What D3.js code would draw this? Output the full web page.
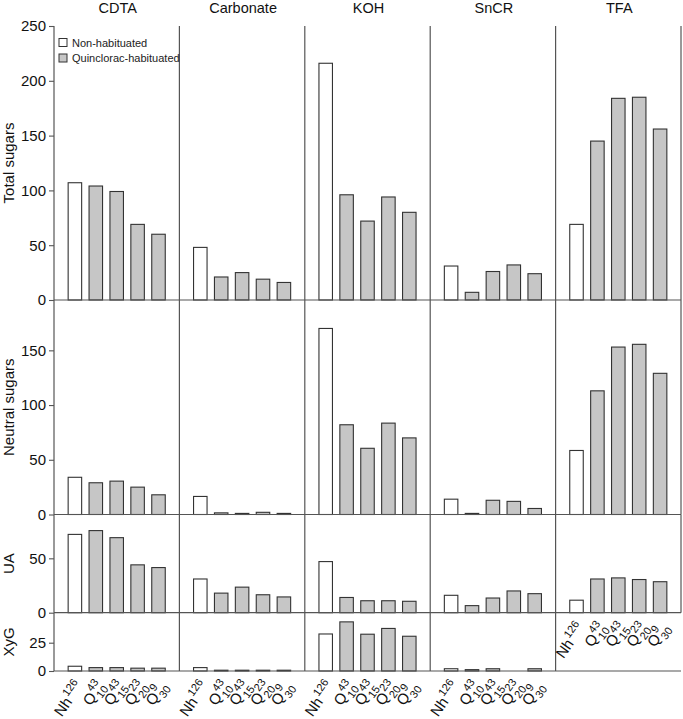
<!DOCTYPE html>
<html>
<head>
<meta charset="utf-8">
<script src="https://cdn.jsdelivr.net/npm/d3@7"></script>
<style>
  body { margin: 0; background: #fff; }
  svg { display: block; font-family: "Liberation Sans", Arial, Helvetica, sans-serif; }
</style>
</head>
<body>
<svg id="chart" width="683" height="719"></svg>
<script>
// ---- Data ----
const fractions = ["CDTA", "Carbonate", "KOH", "SnCR", "TFA"];
const categories = ["Nh126", "Q10_43", "Q15_43", "Q20_23", "Q30_9"];
const catBase = ["Nh", "Q", "Q", "Q", "Q"];
const catSup  = ["126", "43", "43", "23", "9"];
const catSub  = ["", "10", "15", "20", "30"];
const legendLabels = ["Non-habituated", "Quinclorac-habituated"];
const rowNames = ["Total sugars", "Neutral sugars", "UA", "XyG"];

const totalSugars = {
  CDTA:      [107, 104, 99, 69, 60],
  Carbonate: [48, 21, 25, 19, 16],
  KOH:       [216, 96, 72, 94, 80],
  SnCR:      [31, 7, 26, 32, 24],
  TFA:       [69, 145, 184, 185, 156]
};
const neutralSugars = {
  CDTA:      [34, 29, 30.5, 25, 18],
  Carbonate: [16.5, 1.5, 1, 2, 1],
  KOH:       [170, 82, 60.5, 83.5, 70],
  SnCR:      [14, 1, 13, 12, 5.5],
  TFA:       [58.5, 113, 153, 155.5, 129]
};
const uronicAcids = {
  CDTA:      [72, 75.5, 69, 44, 41.5],
  Carbonate: [31, 18, 23.5, 16.5, 14.5],
  KOH:       [47, 14, 11, 11, 10.5],
  SnCR:      [16, 6.5, 13.5, 20, 17.5],
  TFA:       [11.5, 31, 32, 30.5, 28.5]
};
const xyloglucan = {
  CDTA:      [4.2, 3, 3, 2.5, 2.5],
  Carbonate: [3, 0.7, 0.7, 0.7, 0.7],
  KOH:       [32.7, 43.4, 32.5, 37.6, 30.7],
  SnCR:      [2, 1.2, 2, null, 2]
};
const totalTicks = [0, 50, 100, 150, 200, 250];
const neutralTicks = [0, 50, 100, 150];
const uaTicks = [0, 50];
const xygTicks = [0, 25];

// ---- Layout ----
const svg = d3.select("#chart");
const left = 54, right = 681;
const lineColor = "#555";
const barStroke = "#333";
const grayFill = "#c6c6c6";

const rows = [
  { name: rowNames[0], data: totalSugars,   domain: [0, 250],  range: [300, 26],     ticks: totalTicks,   cols: fractions },
  { name: rowNames[1], data: neutralSugars, domain: [0, 196],  range: [514.5, 300],  ticks: neutralTicks, cols: fractions },
  { name: rowNames[2], data: uronicAcids,   domain: [0, 90.3], range: [612.7, 514.5],ticks: uaTicks,      cols: fractions },
  { name: rowNames[3], data: xyloglucan,    domain: [0, 51.5], range: [671, 612.7],  ticks: xygTicks,     cols: fractions.slice(0, 4) }
];
rows.forEach(r => r.y = d3.scaleLinear().domain(r.domain).range(r.range));

const xCol = d3.scaleBand().domain(fractions).range([left, right]).padding(0);
const barW = 13.5;

// column titles
svg.append("g").selectAll("text").data(fractions).join("text")
  .attr("x", d => xCol(d) + xCol.bandwidth() / 2 + 1)
  .attr("y", 12.5)
  .attr("text-anchor", "middle")
  .attr("font-size", 14.5)
  .attr("fill", "#111")
  .text(d => d);

// rows
rows.forEach(r => {
  const g = svg.append("g");
  const y0 = r.y(0), yTop = r.range[1];

  // bars
  r.cols.forEach(f => {
    const xp = d3.scalePoint().domain(categories).range([xCol(f), xCol(f) + xCol.bandwidth()]).padding(1);
    const vals = r.data[f];
    g.append("g").selectAll("rect").data(categories.map((c, i) => ({ c, i, v: vals[i] })).filter(d => d.v != null))
      .join("rect")
      .attr("x", d => xp(d.c) - barW / 2)
      .attr("y", d => r.y(d.v))
      .attr("width", barW)
      .attr("height", d => y0 - r.y(d.v))
      .attr("fill", d => d.i === 0 ? "#fff" : grayFill)
      .attr("stroke", barStroke)
      .attr("stroke-width", 1.1);
  });

  // zero line
  const rowRight = xCol(r.cols[r.cols.length - 1]) + xCol.bandwidth();
  g.append("line").attr("x1", left).attr("x2", Math.max(rowRight, right)).attr("y1", y0).attr("y2", y0)
    .attr("stroke", lineColor).attr("stroke-width", 1.2);

  // column separator lines
  const edges = r.cols.map(f => xCol(f)).concat([rowRight]);
  g.append("g").selectAll("line").data(edges).join("line")
    .attr("x1", d => d).attr("x2", d => d).attr("y1", yTop).attr("y2", y0)
    .attr("stroke", lineColor).attr("stroke-width", 1.2);

  // y axis
  const ax = g.append("g").attr("transform", `translate(${left},0)`)
    .call(d3.axisLeft(r.y).tickValues(r.ticks).tickSize(5).tickPadding(3).tickFormat(d3.format("d")));
  ax.select(".domain").remove();
  ax.selectAll(".tick line").attr("stroke", lineColor).attr("stroke-width", 1.1);
  ax.selectAll(".tick text").attr("font-size", 15).attr("fill", "#111").attr("font-family", "Liberation Sans, Arial, sans-serif");

  // row title
  g.append("text")
    .attr("transform", `translate(14,${(y0 + yTop) / 2}) rotate(-90)`)
    .attr("text-anchor", "middle")
    .attr("font-size", 15)
    .attr("fill", "#111")
    .text(r.name);
});

// x labels
function drawLabels(f, baseY) {
  const xp = d3.scalePoint().domain(categories).range([xCol(f), xCol(f) + xCol.bandwidth()]).padding(1);
  categories.forEach((c, i) => {
    const g = svg.append("g").attr("transform", `translate(${xp(c) + 9},${baseY + 15}) rotate(-55)`);
    const t = g.append("text").attr("font-size", 15).attr("fill", "#111").text(catBase[i]);
    const bw = t.node().getComputedTextLength();
    const s = g.append("text").attr("font-size", 11).attr("fill", "#111").text(catSup[i]);
    const u = g.append("text").attr("font-size", 11).attr("fill", "#111").text(catSub[i]);
    const sw = s.node().getComputedTextLength();
    const uw = catSub[i] ? u.node().getComputedTextLength() : 0;
    const total = bw + 1 + Math.max(sw, uw);
    t.attr("x", -total).attr("y", 0);
    s.attr("x", -total + bw + 1).attr("y", -7);
    u.attr("x", -total + bw + 1).attr("y", 5);
  });
}
fractions.slice(0, 4).forEach(f => drawLabels(f, rows[3].y(0)));
drawLabels("TFA", rows[2].y(0));

// legend
const leg = svg.append("g");
legendLabels.forEach((l, i) => {
  leg.append("rect").attr("x", 59).attr("y", 38.5 + i * 15.5).attr("width", 8).attr("height", 8)
    .attr("fill", i === 0 ? "#fff" : grayFill).attr("stroke", barStroke).attr("stroke-width", 1);
  leg.append("text").attr("x", 72).attr("y", 46.5 + i * 15.5).attr("font-size", 11).attr("fill", "#222").text(l);
});
</script>
</body>
</html>
